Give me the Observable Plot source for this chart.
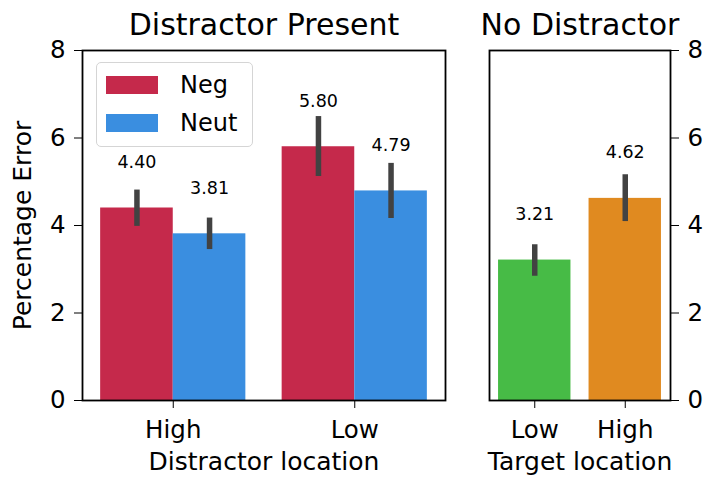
<!DOCTYPE html>
<html><head><meta charset="utf-8">
<script src="https://cdn.jsdelivr.net/npm/d3@7"></script>
<script src="https://cdn.jsdelivr.net/npm/@observablehq/plot@0.6"></script>
<style>
body{margin:0;background:#fff;}
#wrap{position:relative;width:708px;height:483px;font-family:"DejaVu Sans",sans-serif;overflow:hidden;}
#wrap svg{position:absolute;top:0;color:#000;}
.legend{position:absolute;left:96px;top:62px;width:155px;height:83px;border:1.5px solid #d5d5d5;border-radius:5px;background:rgba(255,255,255,0.8);font-size:24px;}
.legend .row{position:absolute;left:9px;height:20px;display:flex;align-items:center;}
.legend .sw{width:52px;height:18px;margin-right:22px;}
</style></head><body><div id="wrap"></div>
<script>
// Distractor Present panel
const distractorLocations = ["High", "Low"];
const conditions = ["Neg", "Neut"];
const presentMeans = [[4.40, 3.81], [5.80, 4.79]];   // [location][condition]
const presentLo    = [[3.98, 3.45], [5.12, 4.16]];
const presentHi    = [[4.81, 4.17], [6.49, 5.42]];
// No Distractor panel
const targetLocations = ["Low", "High"];
const absentMeans = [3.21, 4.62];
const absentLo    = [2.84, 4.09];
const absentHi    = [3.56, 5.16];
const yTicks = [0, 2, 4, 6, 8];
const conditionColors = ["#c5294b", "#3a8ee0"];
const targetColors = ["#47bb46", "#e08a20"];

const fmt = d3.format(".2f");
const wrap = document.getElementById("wrap");

const present = [];
distractorLocations.forEach((loc, i) => conditions.forEach((c, j) => present.push({
  i, j, loc, cond: c, mean: presentMeans[i][j], lo: presentLo[i][j], hi: presentHi[i][j],
  x1: i - 0.4 + j * 0.4, x2: i + j * 0.4, xc: i - 0.2 + j * 0.4
})));
const absent = targetLocations.map((loc, i) => ({
  i, loc, mean: absentMeans[i], lo: absentLo[i], hi: absentHi[i], x1: i - 0.4, x2: i + 0.4, xc: i
}));

const TICK = 24.5, LABEL = 25, TITLE = 30, VALUE = 17.5;

const left = Plot.plot({
  width: 460, height: 483,
  marginLeft: 82, marginRight: 15, marginTop: 50, marginBottom: 83,
  style: {fontSize: TICK + "px", fontFamily: "DejaVu Sans", background: "transparent"},
  x: {type: "linear", domain: [-0.5, 1.5], ticks: [0, 1], tickFormat: i => distractorLocations[i],
      tickSize: 8, tickPadding: 12, label: null},
  y: {domain: [0, 8], ticks: yTicks, tickSize: 8, tickPadding: 9, label: null},
  color: {domain: conditions, range: conditionColors},
  marks: [
    Plot.rectY(present, {x1: "x1", x2: "x2", y1: 0, y2: "mean", fill: d => d.cond}),
    Plot.ruleX(present, {x: "xc", y1: "lo", y2: "hi", stroke: "#424242", strokeWidth: 5.5}),
    Plot.text(present, {x: "xc", y: "mean", text: d => fmt(d.mean), dy: -45.5, fontSize: VALUE}),
    Plot.frame({stroke: "#000", strokeWidth: 1.8}),
    Plot.text(["Distractor Present"], {frameAnchor: "top", lineAnchor: "middle", dy: -25, fontSize: TITLE}),
    Plot.text(["Distractor location"], {frameAnchor: "bottom", lineAnchor: "middle", dy: 61, fontSize: LABEL}),
    Plot.text(["Percentage Error"], {frameAnchor: "left", textAnchor: "middle", lineAnchor: "middle", rotate: -90, dx: -60, fontSize: LABEL})
  ]
});
left.style.left = "0px";
wrap.appendChild(left);

const right = Plot.plot({
  width: 248, height: 483,
  marginLeft: 29, marginRight: 38, marginTop: 50, marginBottom: 83,
  style: {fontSize: TICK + "px", fontFamily: "DejaVu Sans", background: "transparent"},
  x: {type: "linear", domain: [-0.5, 1.5], ticks: [0, 1], tickFormat: i => targetLocations[i],
      tickSize: 8, tickPadding: 12, label: null},
  y: {domain: [0, 8], ticks: yTicks, tickSize: 8, tickPadding: 9, label: null, axis: "right"},
  color: {domain: targetLocations, range: targetColors},
  marks: [
    Plot.rectY(absent, {x1: "x1", x2: "x2", y1: 0, y2: "mean", fill: d => d.loc}),
    Plot.ruleX(absent, {x: "xc", y1: "lo", y2: "hi", stroke: "#424242", strokeWidth: 5.5}),
    Plot.text(absent, {x: "xc", y: "mean", text: d => fmt(d.mean), dy: -45.5, fontSize: VALUE}),
    Plot.frame({stroke: "#000", strokeWidth: 1.8}),
    Plot.text(["No Distractor"], {frameAnchor: "top", lineAnchor: "middle", dy: -25, fontSize: TITLE}),
    Plot.text(["Target location"], {frameAnchor: "bottom", lineAnchor: "middle", dy: 61, fontSize: LABEL})
  ]
});
right.style.left = "460px";
wrap.appendChild(right);

// legend
const lg = document.createElement("div");
lg.className = "legend";
conditions.forEach((c, j) => {
  const row = document.createElement("div");
  row.className = "row";
  row.style.top = (j === 0 ? 12 : 50) + "px";
  const sw = document.createElement("div");
  sw.className = "sw";
  sw.style.background = conditionColors[j];
  const t = document.createElement("span");
  t.textContent = c;
  row.appendChild(sw); row.appendChild(t);
  lg.appendChild(row);
});
wrap.appendChild(lg);
</script></body></html>
